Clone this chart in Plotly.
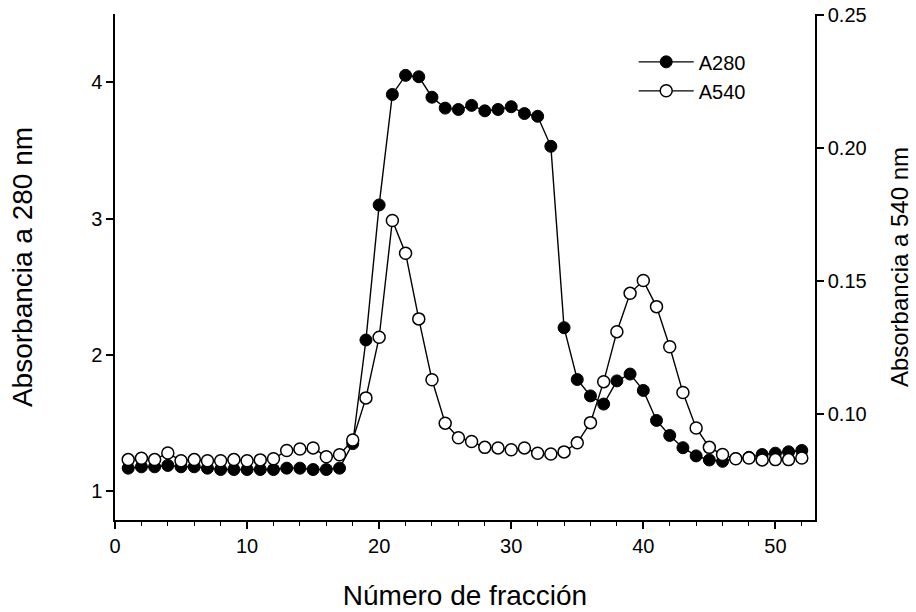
import plotly.graph_objects as go

fraccion = list(range(1, 53))

a280 = [1.17, 1.18, 1.18, 1.19, 1.18, 1.18, 1.17, 1.16, 1.16, 1.16,
        1.16, 1.16, 1.17, 1.17, 1.16, 1.16, 1.17, 1.35, 2.11, 3.10,
        3.91, 4.05, 4.04, 3.89, 3.81, 3.80, 3.83, 3.79, 3.80, 3.82,
        3.77, 3.75, 3.53, 2.20, 1.82, 1.70, 1.64, 1.81, 1.86, 1.74,
        1.52, 1.41, 1.32, 1.26, 1.23, 1.22, 1.24, 1.25, 1.27, 1.28,
        1.29, 1.30]

a540 = [0.0827, 0.0832, 0.0827, 0.0852, 0.0823, 0.0827, 0.0823, 0.0823, 0.0827, 0.0823,
        0.0826, 0.0830, 0.0861, 0.0867, 0.0871, 0.0838, 0.0845, 0.0901, 0.1059, 0.1287,
        0.1726, 0.1603, 0.1356, 0.1127, 0.0964, 0.0909, 0.0895, 0.0873, 0.0871, 0.0864,
        0.0871, 0.0851, 0.0848, 0.0856, 0.0890, 0.0966, 0.1120, 0.1308, 0.1452, 0.1500,
        0.1402, 0.1251, 0.1079, 0.0946, 0.0873, 0.0846, 0.0830, 0.0833, 0.0826, 0.0827,
        0.0827, 0.0833]

x_ticks = [0, 10, 20, 30, 40, 50]
y1_ticks = [1, 2, 3, 4]
y2_ticks = [0.10, 0.15, 0.20, 0.25]

FONT = "Liberation Sans, Arial, sans-serif"

fig = go.Figure()
fig.add_trace(go.Scatter(
    x=fraccion, y=a280, name="A280", mode="lines+markers",
    line=dict(color="black", width=1.4),
    marker=dict(symbol="circle", size=12, color="black",
                line=dict(color="black", width=1)),
    yaxis="y"))
fig.add_trace(go.Scatter(
    x=fraccion, y=a540, name="A540", mode="lines+markers",
    line=dict(color="black", width=1.4),
    marker=dict(symbol="circle", size=12, color="white",
                line=dict(color="black", width=1.5)),
    yaxis="y2"))

axis_common = dict(showline=True, linecolor="black", linewidth=1.5,
                   showgrid=False, zeroline=False, ticks="outside",
                   ticklen=7, tickwidth=1.5, tickcolor="black",
                   automargin=False,
                   tickfont=dict(family=FONT, size=20, color="black"))

fig.update_layout(
    width=916, height=612,
    margin=dict(l=115, r=101, t=14, b=92),
    paper_bgcolor="white", plot_bgcolor="white",
    font=dict(family=FONT, color="black"),
    xaxis=dict(range=[0, 53], tickvals=x_ticks,
               minor=dict(dtick=2, tick0=0, ticks="outside", ticklen=4,
                          tickwidth=1.2, tickcolor="black"),
               title=dict(text="Número de fracción",
                          font=dict(family=FONT, size=28), standoff=30),
               **axis_common),
    yaxis=dict(range=[0.79, 4.5], tickvals=y1_ticks,
               title=dict(text="Absorbancia a 280 nm",
                          font=dict(family=FONT, size=28), standoff=50),
               **axis_common),
    yaxis2=dict(range=[0.06, 0.2502], tickvals=y2_ticks, tickformat=".2f",
                overlaying="y", side="right",
                title=dict(text="Absorbancia a 540 nm",
                           font=dict(family=FONT, size=24), standoff=26),
                **axis_common),
    legend=dict(x=0.741, y=0.944, xanchor="left", yanchor="top",
                bgcolor="rgba(0,0,0,0)", font=dict(family=FONT, size=20),
                itemwidth=55, tracegroupgap=0),
    showlegend=True,
)

fig.write_html("out.html")
